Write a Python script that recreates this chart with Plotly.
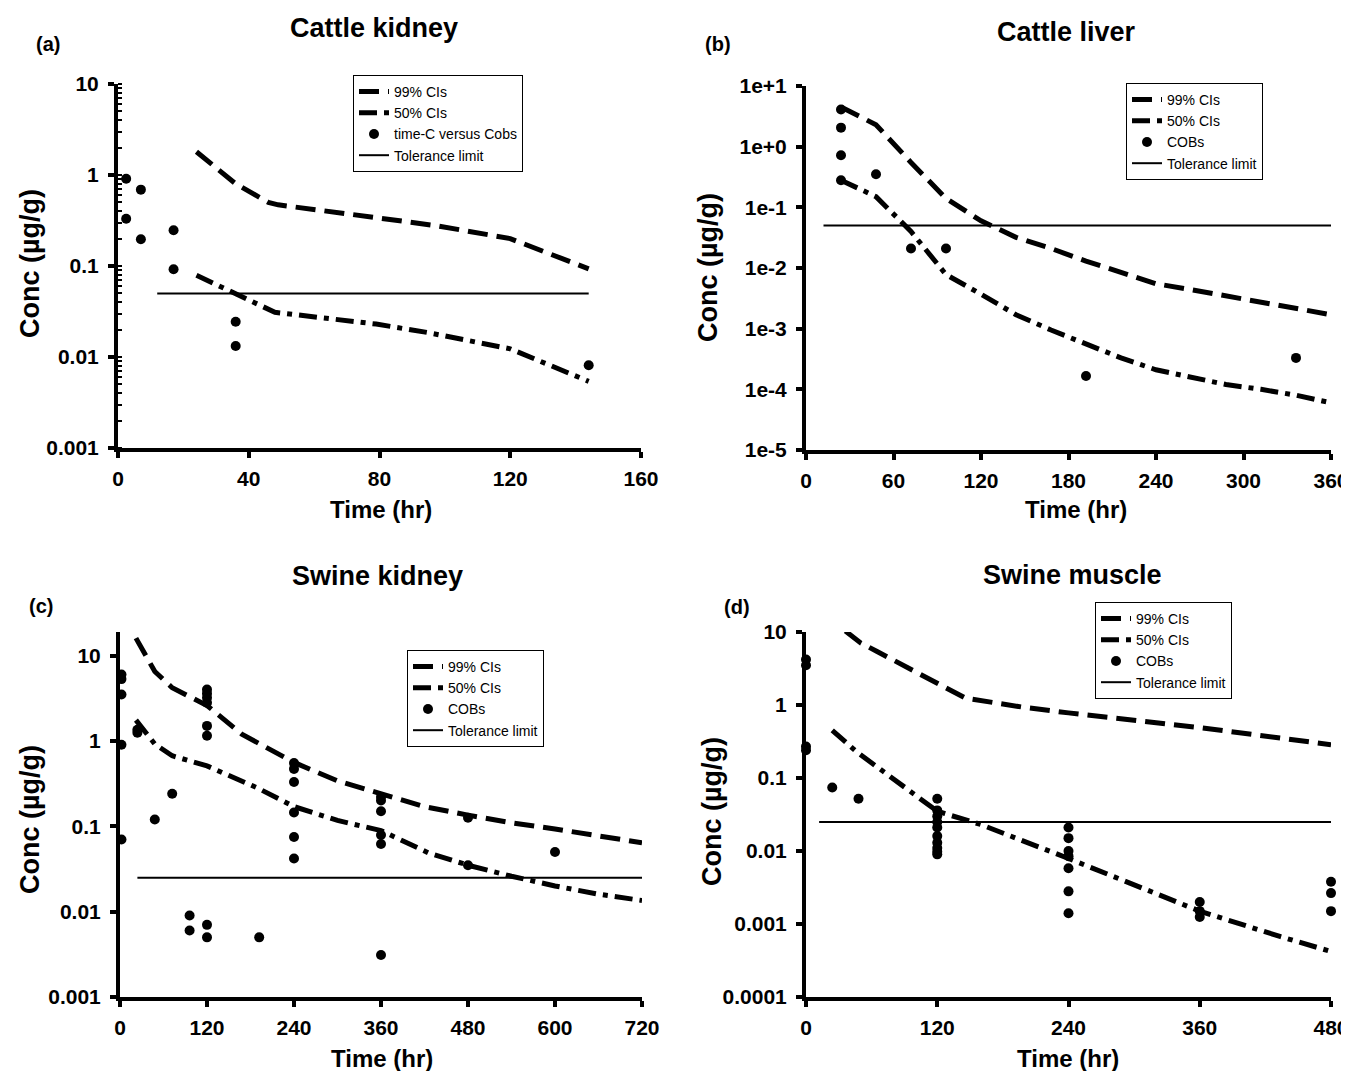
import plotly.graph_objects as go

# ---------------- data ----------------
# (a) Cattle kidney
a_ci99_t = [24, 36, 46, 49, 79, 98, 120, 144]
a_ci99_c = [1.8, 0.8, 0.5, 0.47, 0.34, 0.275, 0.2, 0.093]
a_ci50_t = [24, 36, 48, 79, 95, 120, 144]
a_ci50_c = [0.079, 0.049, 0.031, 0.023, 0.0185, 0.0123, 0.0054]
a_obs_t = [2.5, 2.5, 7, 7, 17, 17, 36, 36, 144]
a_obs_c = [0.91, 0.33, 0.69, 0.197, 0.247, 0.092, 0.0244, 0.0132, 0.0081]
a_tol_t = [12, 144]
a_tol_c = [0.05, 0.05]

# (b) Cattle liver
b_ci99_t = [24, 48, 72, 96, 120, 144, 168, 192, 216, 240, 264, 288, 312, 336, 360]
b_ci99_c = [4.5, 2.3, 0.55, 0.14, 0.06, 0.032, 0.021, 0.013, 0.0085, 0.0055,
            0.0044, 0.0035, 0.0028, 0.0022, 0.0017]
b_ci50_t = [24, 48, 72, 96, 120, 144, 168, 192, 216, 240, 264, 288, 312, 336, 360]
b_ci50_c = [0.28, 0.15, 0.04, 0.0078, 0.0037, 0.0017, 0.00095, 0.00055, 0.00033,
            0.00021, 0.00016, 0.00012, 0.0001, 0.00008, 0.00006]
b_obs_t = [24, 24, 24, 24, 48, 72, 96, 192, 336]
b_obs_c = [4.1, 2.06, 0.72, 0.28, 0.35, 0.021, 0.021, 0.000166, 0.00033]
b_tol_t = [12, 360]
b_tol_c = [0.05, 0.05]

# (c) Swine kidney
c_ci99_t = [22, 48, 72, 120, 168, 192, 240, 300, 360, 420, 480, 540, 600, 660, 720]
c_ci99_c = [16, 6.5, 4.2, 2.6, 1.2, 0.92, 0.56, 0.34, 0.24, 0.17, 0.135, 0.11,
            0.093, 0.078, 0.064]
c_ci50_t = [22, 48, 72, 120, 190, 240, 300, 360, 425, 480, 540, 600, 660, 720]
c_ci50_c = [1.75, 0.92, 0.67, 0.51, 0.28, 0.17, 0.117, 0.089, 0.049, 0.035,
            0.026, 0.020, 0.016, 0.0135]
c_obs_t = [2, 2, 2, 2, 2, 24, 24, 48, 72, 96, 96,
           120, 120, 120, 120, 120, 120, 120, 120, 192,
           240, 240, 240, 240, 240, 240,
           360, 360, 360, 360, 360, 360, 480, 480, 600]
c_obs_c = [6.0, 5.3, 3.5, 0.9, 0.07, 1.35, 1.25, 0.12, 0.24, 0.009, 0.006,
           4.0, 3.6, 3.2, 2.8, 1.5, 1.15, 0.007, 0.005, 0.005,
           0.55, 0.47, 0.33, 0.145, 0.075, 0.042,
           0.22, 0.2, 0.15, 0.079, 0.062, 0.0031, 0.126, 0.035, 0.05]
c_tol_t = [24, 720]
c_tol_c = [0.025, 0.025]

# (d) Swine muscle
d_ci99_t = [36, 50, 65, 120, 146, 199, 240, 360, 480]
d_ci99_c = [10.3, 7.1, 5.4, 1.96, 1.24, 0.93, 0.78, 0.49, 0.286]
d_ci50_t = [24, 46, 120, 160, 240, 360, 434, 480]
d_ci50_c = [0.45, 0.23, 0.035, 0.023, 0.0079, 0.0015, 0.00067, 0.00042]
d_obs_t = [0, 0, 0, 0, 24, 48,
           120, 120, 120, 120, 120, 120, 120, 120, 120, 120,
           240, 240, 240, 240, 240, 240, 240,
           360, 360, 360, 480, 480, 480]
d_obs_c = [4.2, 3.5, 0.27, 0.24, 0.074, 0.052,
           0.052, 0.036, 0.030, 0.025, 0.021, 0.016, 0.013, 0.011, 0.0098, 0.009,
           0.021, 0.015, 0.010, 0.0085, 0.0058, 0.0028, 0.0014,
           0.002, 0.0015, 0.00125, 0.0038, 0.00265, 0.0015]
d_tol_t = [12, 480]
d_tol_c = [0.025, 0.025]

titles = ["Cattle kidney", "Cattle liver", "Swine kidney", "Swine muscle"]
letters = ["(a)", "(b)", "(c)", "(d)"]
obs_names = ["time-C versus Cobs", "COBs", "COBs", "COBs"]

xticks_a = [0, 40, 80, 120, 160]
xticks_b = [0, 60, 120, 180, 240, 300, 360]
xticks_c = [0, 120, 240, 360, 480, 600, 720]
xticks_d = [0, 120, 240, 360, 480]
yticks_a = [0.001, 0.01, 0.1, 1, 10]
ylabels_a = ["0.001", "0.01", "0.1", "1", "10"]
yticks_b = [1e-5, 1e-4, 1e-3, 1e-2, 1e-1, 1, 10]
ylabels_b = ["1e-5", "1e-4", "1e-3", "1e-2", "1e-1", "1e+0", "1e+1"]
yticks_c = [0.001, 0.01, 0.1, 1, 10]
ylabels_c = ["0.001", "0.01", "0.1", "1", "10"]
yticks_d = [0.0001, 0.001, 0.01, 0.1, 1, 10]
ylabels_d = ["0.0001", "0.001", "0.01", "0.1", "1", "10"]

# ---------------- figure ----------------
OFF = 8  # page body margin
W, H = 1349 - OFF, 1071 - OFF
FONT = "Liberation Sans, Arial, sans-serif"


def px_x(p):
    return (p - OFF) / W


def px_y(p):
    return 1 - (p - OFF) / H


panels = [
    dict(ci99=(a_ci99_t, a_ci99_c), ci50=(a_ci50_t, a_ci50_c), obs=(a_obs_t, a_obs_c),
         tol=(a_tol_t, a_tol_c), xr=[0, 160], yr=[-3, 1], xt=xticks_a, yt=yticks_a, yl=ylabels_a,
         xdom=[px_x(118), px_x(641)], ydom=[px_y(448), px_y(84)],
         leg=(px_x(353), px_y(75)), title=(374, 28), letter=(48, 44),
         ytitle=(30, 264), xtitle=(381, 510), minor=True),
    dict(ci99=(b_ci99_t, b_ci99_c), ci50=(b_ci50_t, b_ci50_c), obs=(b_obs_t, b_obs_c),
         tol=(b_tol_t, b_tol_c), xr=[0, 360], yr=[-5, 1], xt=xticks_b, yt=yticks_b, yl=ylabels_b,
         xdom=[px_x(806), px_x(1331)], ydom=[px_y(450), px_y(86)],
         leg=(px_x(1126), px_y(83)), title=(1066, 32), letter=(718, 44),
         ytitle=(708, 268), xtitle=(1076, 510), minor=False),
    dict(ci99=(c_ci99_t, c_ci99_c), ci50=(c_ci50_t, c_ci50_c), obs=(c_obs_t, c_obs_c),
         tol=(c_tol_t, c_tol_c), xr=[0, 720], yr=[-3, 1.276], xt=xticks_c, yt=yticks_c, yl=ylabels_c,
         xdom=[px_x(120), px_x(642)], ydom=[px_y(997), px_y(632)],
         leg=(px_x(407), px_y(650)), title=(377, 576), letter=(41, 606),
         ytitle=(30, 820), xtitle=(382, 1058), minor=False),
    dict(ci99=(d_ci99_t, d_ci99_c), ci50=(d_ci50_t, d_ci50_c), obs=(d_obs_t, d_obs_c),
         tol=(d_tol_t, d_tol_c), xr=[0, 480], yr=[-4, 1], xt=xticks_d, yt=yticks_d, yl=ylabels_d,
         xdom=[px_x(806), px_x(1331)], ydom=[px_y(997), px_y(632)],
         leg=(px_x(1095), px_y(602)), title=(1072, 575), letter=(737, 607),
         ytitle=(712, 812), xtitle=(1068, 1058), minor=False),
]

fig = go.Figure()
annotations = []
layout = dict(
    width=W, height=H,
    margin=dict(l=0, r=0, t=0, b=0),
    paper_bgcolor="white", plot_bgcolor="white",
    font=dict(family=FONT, color="black"),
)

for i, p in enumerate(panels):
    k = "" if i == 0 else str(i + 1)
    xa, ya = "x" + k, "y" + k
    leg = "legend" + k
    common = dict(xaxis=xa, yaxis=ya, legend=leg, cliponaxis=False)
    fig.add_trace(go.Scatter(x=p["ci99"][0], y=p["ci99"][1], mode="lines", name="99% CIs",
                             line=dict(color="black", width=5, dash="20px,9px"), **common))
    fig.add_trace(go.Scatter(x=p["ci50"][0], y=p["ci50"][1], mode="lines", name="50% CIs",
                             line=dict(color="black", width=5, dash="18px,7px,5px,7px"), **common))
    fig.add_trace(go.Scatter(x=p["obs"][0], y=p["obs"][1], mode="markers", name=obs_names[i],
                             marker=dict(color="black", size=10), **common))
    fig.add_trace(go.Scatter(x=p["tol"][0], y=p["tol"][1], mode="lines", name="Tolerance limit",
                             line=dict(color="black", width=2), **common))

    layout["xaxis" + k] = dict(
        domain=p["xdom"], anchor=ya, range=p["xr"], tickmode="array", tickvals=p["xt"],
        showline=True, linewidth=4, linecolor="black", mirror=False,
        ticks="outside", ticklen=6, tickwidth=4, tickcolor="black", ticklabelstandoff=3,
        showgrid=False, zeroline=False, automargin=False,
        tickfont=dict(family=FONT, size=21, color="black", weight="bold"),
    )
    yax = dict(
        domain=p["ydom"], anchor=xa, type="log", range=p["yr"], tickmode="array",
        tickvals=p["yt"], ticktext=p["yl"],
        showline=True, linewidth=4, linecolor="black", mirror=False,
        ticks="outside", ticklen=6, tickwidth=4, tickcolor="black", ticklabelstandoff=5,
        showgrid=False, zeroline=False, automargin=False,
        tickfont=dict(family=FONT, size=21, color="black", weight="bold"),
    )
    if p["minor"]:
        yax["minor"] = dict(ticks="inside", ticklen=4, tickwidth=1.5, tickcolor="black",
                            showgrid=False, dtick="D1")
    layout["yaxis" + k] = yax

    layout[leg] = dict(
        x=p["leg"][0], y=p["leg"][1], xanchor="left", yanchor="top",
        bordercolor="black", borderwidth=1, bgcolor="white",
        font=dict(family=FONT, size=14, color="black"),
        tracegroupgap=0, itemwidth=30,
    )

    annotations.append(dict(text="<b>%s</b>" % titles[i], x=px_x(p["title"][0]), y=px_y(p["title"][1]),
                            xref="paper", yref="paper", showarrow=False, xanchor="center",
                            yanchor="middle", font=dict(family=FONT, size=27, color="black")))
    annotations.append(dict(text="<b>%s</b>" % letters[i], x=px_x(p["letter"][0]), y=px_y(p["letter"][1]),
                            xref="paper", yref="paper", showarrow=False, xanchor="center",
                            yanchor="middle", font=dict(family=FONT, size=20, color="black")))
    annotations.append(dict(text="<b>Conc (µg/g)</b>", x=px_x(p["ytitle"][0]), y=px_y(p["ytitle"][1]),
                            xref="paper", yref="paper", showarrow=False, textangle=-90,
                            xanchor="center", yanchor="middle",
                            font=dict(family=FONT, size=27, color="black")))
    annotations.append(dict(text="<b>Time (hr)</b>", x=px_x(p["xtitle"][0]), y=px_y(p["xtitle"][1]),
                            xref="paper", yref="paper", showarrow=False,
                            xanchor="center", yanchor="middle",
                            font=dict(family=FONT, size=24, color="black")))

layout["annotations"] = annotations
fig.update_layout(**layout)
fig.write_html("out.html")
